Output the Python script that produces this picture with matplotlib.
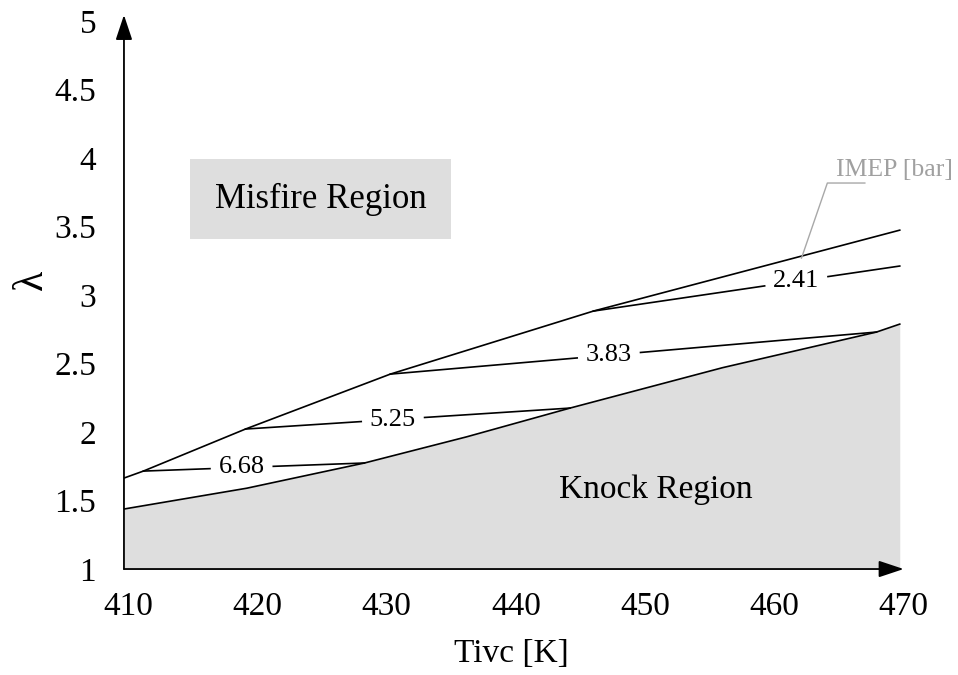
import numpy as np
import matplotlib.pyplot as plt
import matplotlib.transforms as mtransforms
from matplotlib.patches import Rectangle

plt.rcParams['font.family'] = ['Liberation Serif', 'DejaVu Serif']

# Misfire limit (upper boundary) and knock limit (lower boundary)
misfire_T = [410, 411.5, 419.4, 430.6, 446.3, 470]
misfire_lam = [1.664, 1.715, 2.022, 2.423, 2.883, 3.474]
knock_T = [410, 419.5, 428.6, 436.5, 444.5, 456.3, 468.2, 470]
knock_lam = [1.438, 1.59, 1.774, 1.965, 2.175, 2.47, 2.730, 2.788]

# IMEP iso-lines between the two limits
imep_levels = ['6.68', '5.25', '3.83', '2.41']
imep_T0 = [411.5, 419.4, 430.6, 446.3]
imep_lam0 = [1.715, 2.022, 2.423, 2.883]
imep_T1 = [428.6, 444.5, 468.2, 470]
imep_lam1 = [1.774, 2.175, 2.730, 3.212]
imep_label_T = [419.1, 430.8, 447.5, 462.0]

x_ticks = [410, 420, 430, 440, 450, 460, 470]
y_ticks = [1, 1.5, 2, 2.5, 3, 3.5, 4, 4.5, 5]
y_ticklabels = ['1', '1.5', '2', '2.5', '3', '3.5', '4', '4.5', '5']

fig = plt.figure(figsize=(9.58, 6.75), dpi=100)
ax = fig.add_axes([0.1294, 0.157, 0.8233, 0.832])
ax.set_xlim(410, 471)
ax.set_ylim(1, 5.1)

lw = 1.2
gray = '#dedede'

# knock region
ax.fill_between(knock_T, 1, knock_lam, color=gray, lw=0)
ax.plot(knock_T, knock_lam, color='black', lw=lw)
ax.plot(misfire_T, misfire_lam, color='black', lw=lw)

# iso-lines with a gap left for the label
half_gap = 2.45
for lev, t0, l0, t1, l1, tl in zip(imep_levels, imep_T0, imep_lam0,
                                   imep_T1, imep_lam1, imep_label_T):
    ll = np.interp(tl, [t0, t1], [l0, l1])
    ta, tb = tl - half_gap, tl + half_gap
    ax.plot([t0, ta], [l0, np.interp(ta, [t0, t1], [l0, l1])], color='black', lw=lw)
    ax.plot([tb, t1], [np.interp(tb, [t0, t1], [l0, l1]), l1], color='black', lw=lw)
    ax.text(tl, ll, lev, fontsize=19, ha='center', va='center')

# misfire region box
ax.add_patch(Rectangle((415.1, 3.41), 20.2, 0.58, facecolor=gray, edgecolor='none'))
ax.text(425.2, 3.70, 'Misfire Region', fontsize=25, ha='center', va='center')
ax.text(451.1, 1.58, 'Knock Region', fontsize=24, ha='center', va='center')

# IMEP legend with leader line
ax.plot([467.3, 464.4, 462.4], [3.818, 3.818, 3.27], color='#a8a8a8', lw=1.0)
ax.text(469.6, 3.915, 'IMEP [bar]', fontsize=18.5, color='#a0a0a0', ha='center', va='center')

# arrowed axes
for s in ax.spines.values():
    s.set_visible(False)
arrow = dict(arrowstyle='-|>,head_length=0.9,head_width=0.3',
             color='black', lw=1.3, shrinkA=0, shrinkB=0, mutation_scale=17)
ax.annotate('', xy=(410, 5.045), xytext=(410, 1), annotation_clip=False, arrowprops=arrow)
ax.annotate('', xy=(470.3, 1), xytext=(410, 1), annotation_clip=False, arrowprops=arrow)

ax.set_xticks(x_ticks)
ax.set_xticklabels([str(t) for t in x_ticks])
ax.set_yticks(y_ticks)
ax.set_yticklabels(y_ticklabels)
ax.tick_params(axis='both', length=0, labelsize=24)
ax.tick_params(axis='x', pad=16)
ax.tick_params(axis='y', pad=20)

# x tick labels sit a few pixels right of their tick positions
shift = mtransforms.ScaledTranslation(4 / 100, 0, fig.dpi_scale_trans)
for lab in ax.get_xticklabels():
    lab.set_transform(lab.get_transform() + shift)

ax.text(440, 1 - 0.62, 'Tivc [K]', fontsize=24, ha='center', va='center')
ax.text(-0.117, 0.515, 'λ', fontsize=30, rotation=90, ha='center', va='center',
        transform=ax.transAxes)

fig.savefig('out.png', dpi=100)
